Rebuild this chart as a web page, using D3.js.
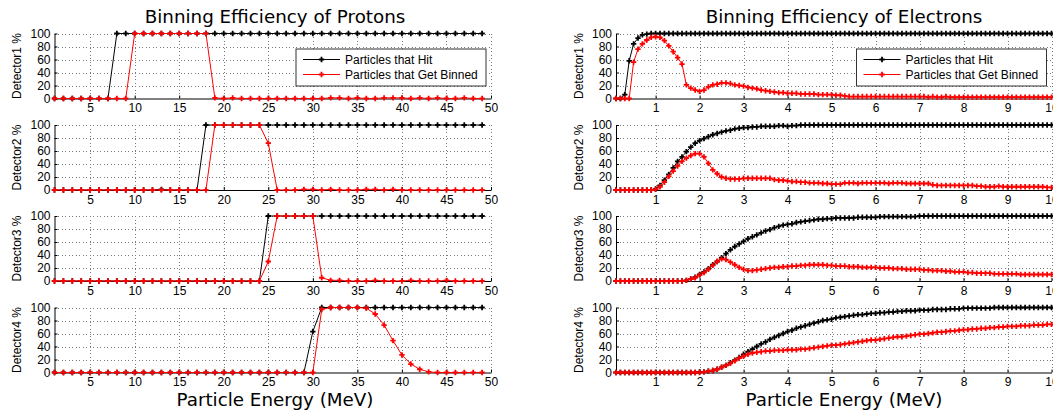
<!DOCTYPE html>
<html>
<head>
<meta charset="utf-8">
<script src="https://cdn.jsdelivr.net/npm/d3@7"></script>
<style>
  html, body { margin: 0; padding: 0; background: #fff; }
  svg { display: block; }
  .tick text { font-family: "Liberation Sans", Arial, sans-serif; font-size: 12px; fill: #000; }
</style>
</head>
<body>
<script>
// ---- Energies and tick values ----
const protonEnergy = d3.range(1, 50);                       // 1 .. 49 MeV
const electronEnergy = d3.range(1, 101).map(i => i / 10);   // 0.1 .. 10 MeV
const protonTicks = [5, 10, 15, 20, 25, 30, 35, 40, 45, 50];
const electronTicks = [1, 2, 3, 4, 5, 6, 7, 8, 9, 10];
const percentTicks = [0, 20, 40, 60, 80, 100];
const detectorNames = ["Detector1 %", "Detector2 %", "Detector3 %", "Detector4 %"];
const seriesNames = ["Particles that Hit", "Particles that Get Binned"];

// ---- Protons: percent of particles per detector ----
const p1Hit = [0,0,0,0,0,0,0,100,100,100, 100,100,100,100,100,100,100,100,100,100,
  100,100,100,100,100,100,100,100,100,100, 100,100,100,100,100,100,100,100,100,100,
  100,100,100,100,100,100,100,100,100];
const p1Binned = [0,0,0,0,0,0,0,0,0,100, 100,100,100,100,100,100,100,100,1,0,
  1,0,0,0,0,0,0,0,0,0, 0,1,1,0,1,0,0,1,1,1,
  0,1,0,1,0,0,1,0,0];
const p2Hit = [0,0,0,0,0,0,0,0,0,0, 0,0,1,0,0,0,0,100,100,100,
  100,100,100,100,100,100,100,100,100,100, 100,100,100,100,100,100,100,100,100,100,
  100,100,100,100,100,100,100,100,100];
const p2Binned = [0,0,0,0,0,0,0,0,0,0, 0,0,0,0,0,0,0,0,100,100,
  100,100,100,100,72,0,0,0,1,1, 0,1,0,0,0,1,1,0,1,0,
  0,0,0,0,0,0,0,0,0];
const p3Hit = [0,0,0,0,0,0,0,0,0,0, 0,0,0,0,0,0,0,0,0,0,
  0,0,0,0,100,100,100,100,100,100, 100,100,100,100,100,100,100,100,100,100,
  100,100,100,100,100,100,100,100,100];
const p3Binned = [0,0,0,0,0,0,0,0,0,0, 0,0,0,0,0,0,0,0,0,0,
  0,0,0,0,30,100,100,100,100,100, 5,1,1,0,0,0,1,0,0,0,
  1,0,0,0,1,0,0,0,0];
const p4Hit = [0,0,0,0,0,0,0,0,0,0, 0,0,0,0,0,0,0,0,0,0,
  0,0,0,0,0,0,0,0,0,63, 100,100,100,100,100,100,100,100,100,100,
  100,100,100,100,100,100,100,100,100];
const p4Binned = [0,0,0,0,0,0,0,0,0,0, 0,0,0,0,0,0,0,0,0,0,
  0,0,0,0,0,0,0,0,0,0, 97,100,100,100,100,99,90,73,49,27,
  13,5,1,0,0,0,0,0,0];

// ---- Electrons: percent of particles per detector ----
const e1Hit = [0,0,6,58,84,93,98,99,100,100,
  100,100,100,100,100,100,100,100,100,100,
  100,100,100,100,100,100,100,100,100,100,
  100,100,100,100,100,100,100,100,100,100,
  100,100,100,100,100,100,100,100,100,100,
  100,100,100,100,100,100,100,100,100,100,
  100,100,100,100,100,100,100,100,100,100,
  100,100,100,100,100,100,100,100,100,100,
  100,100,100,100,100,100,100,100,100,100,
  100,100,100,100,100,100,100,100,100,100];
const e1Binned = [0,0,0,0,56,76,84,90,94,95,
  94,89,81,72,63,53,21,16,13,11,
  13,18,21,22,24,24,23,21,20,19,
  17,16,15,13,12,11,10,9,9,8,
  8,8,7,7,7,7,6,6,6,6,
  5,5,4,3,3,3,3,3,3,3,
  3,3,3,3,3,3,3,3,3,3,
  3,2,3,2,2,3,2,2,2,2,
  2,2,2,2,2,2,2,2,2,2,
  2,2,2,2,2,2,2,2,2,2];
const e2Hit = [0,0,0,0,0,0,0,0,0,1.5,
  7,15,24,34,44,51,59,66,72,76,
  79,82,85,87,89,91,92,94,95,96,
  96,97,97,98,98,98,98,99,99,98,
  99,99,100,100,100,100,100,100,100,100,
  100,100,100,100,100,100,100,100,100,100,
  100,100,100,100,100,100,100,100,100,100,
  100,100,100,100,100,100,100,100,100,100,
  100,100,100,100,100,100,100,100,100,100,
  100,100,100,100,100,100,100,100,100,100];
const e2Binned = [0,0,0,0,0,0,0,0,0,1,
  5,12,21,29,37,44,49,53,56,56,
  51,41,31,25,20,18,17,17,17,18,
  18,18,18,18,18,18,16,15,15,14,
  13,13,12,12,11,11,11,10,10,9,
  9,9,11,11,11,10,11,11,11,11,
  11,11,10,11,11,11,10,10,10,10,
  10,10,8,7,7,7,7,7,7,7,
  7,7,6,6,5,5,5,6,5,5,
  5,5,5,5,5,5,5,5,4,4];
const e3Hit = [0,0,0,0,0,0,0,0,0,0,
  0,0,0,0,0,0,1,3,6,10,
  14,19,25,30,36,42,48,53,57,61,
  65,68,71,74,77,79,82,84,86,87,
  88,90,91,92,93,94,95,95,96,96,
  97,97,97,97,97,98,98,98,98,98,
  99,99,99,99,99,99,99,99,99,100,
  100,100,100,100,100,100,100,100,100,100,
  100,100,100,100,100,100,100,100,100,100,
  100,100,100,100,100,100,100,100,100,100];
const e3Binned = [0,0,0,0,0,0,0,0,0,0,
  0,0,0,0,0,0,1,3,5,9,
  13,18,24,30,34,33,29,25,21,18,
  16,16,17,18,19,20,21,21,22,22,
  23,23,24,24,25,25,25,25,24,24,
  23,23,23,22,22,22,21,21,21,21,
  20,20,20,19,19,19,18,18,18,18,
  17,17,16,16,16,15,15,14,14,14,
  13,13,12,12,12,12,11,11,11,11,
  11,11,10,10,10,10,10,10,10,10];
const e4Hit = [0,0,0,0,0,0,0,0,0,0,
  0,0,0,0,0,0,0,0,0,1,
  1,2,3,5,8,11,15,19,23,28,
  32,36,40,44,47,51,54,57,60,63,
  65,68,70,72,74,76,78,80,81,82,
  84,85,86,87,88,89,89,90,91,91,
  92,92,93,93,94,94,95,95,95,96,
  96,96,97,97,97,97,98,98,98,99,
  99,99,99,99,99,99,100,100,100,100,
  100,100,100,100,100,100,100,100,100,100];
const e4Binned = [0,0,0,0,0,0,0,0,0,0,
  0,0,0,0,0,0,0,0,0,0,
  1,2,3,5,8,11,14,18,22,25,
  28,30,31,32,33,33,34,34,34,35,
  35,35,36,36,37,38,39,40,41,42,
  42,43,44,45,46,47,48,49,50,50,
  51,52,53,54,55,55,56,57,58,59,
  59,60,61,62,62,63,64,64,65,66,
  66,67,67,68,68,69,69,70,70,71,
  71,71,72,72,72,73,73,73,74,74];

// ---- Layout ----
const W = 1053, H = 412;
const panelTops = [33.5, 125, 216, 307.5];
const panelH = 65;
const hitColor = "#000000";
const binColor = "#ff0000";

const columns = [
  { left: 54.5, right: 491, textX: 275, domain: [1, 50], ticks: protonTicks, energy: protonEnergy,
    hit: [p1Hit, p2Hit, p3Hit, p4Hit], binned: [p1Binned, p2Binned, p3Binned, p4Binned],
    title: "Binning Efficiency of Protons" },
  { left: 616, right: 1051.5, textX: 844, domain: [0.1, 10], ticks: electronTicks, energy: electronEnergy,
    hit: [e1Hit, e2Hit, e3Hit, e4Hit], binned: [e1Binned, e2Binned, e3Binned, e4Binned],
    title: "Binning Efficiency of Electrons" }
];

const svg = d3.select("body").append("svg").attr("width", W).attr("height", H);
const marker = d3.symbol().type(d3.symbolCross).size(16);

columns.forEach(col => {
  const x = d3.scaleLinear().domain(col.domain).range([col.left, col.right]);

  // title
  svg.append("text")
    .attr("x", col.textX).attr("y", 23)
    .attr("text-anchor", "middle")
    .style("font-family", "'DejaVu Sans', sans-serif").style("font-size", "18.3px")
    .text(col.title);

  // energy axis label
  svg.append("text")
    .attr("x", col.textX).attr("y", 406)
    .attr("text-anchor", "middle")
    .style("font-family", "'DejaVu Sans', sans-serif").style("font-size", "18.3px")
    .text("Particle Energy (MeV)");

  panelTops.forEach((top, k) => {
    const y = d3.scaleLinear().domain([0, 100]).range([top + panelH, top]);
    const g = svg.append("g");

    // dotted grid
    const grid = g.append("g").attr("stroke", "#7a7a7a").attr("stroke-width", 1)
      .attr("stroke-dasharray", "1,2.5").attr("shape-rendering", "crispEdges");
    grid.selectAll("line.h").data(percentTicks.filter(v => v > 0)).join("line")
      .attr("x1", col.left).attr("x2", col.right)
      .attr("y1", d => Math.round(y(d)) + 0.5).attr("y2", d => Math.round(y(d)) + 0.5);
    grid.selectAll("line.v").data(col.ticks).join("line")
      .attr("x1", d => Math.round(x(d)) + 0.5).attr("x2", d => Math.round(x(d)) + 0.5)
      .attr("y1", top).attr("y2", top + panelH);

    // axes with inward ticks
    g.append("g")
      .attr("transform", `translate(${col.left},0)`)
      .call(d3.axisLeft(y).tickValues(percentTicks).tickSizeInner(-3).tickSizeOuter(0).tickPadding(4))
      .call(a => a.selectAll("path,line").attr("stroke", "#000"));
    g.append("g")
      .attr("transform", `translate(0,${top + panelH})`)
      .call(d3.axisBottom(x).tickValues(col.ticks).tickSizeInner(-3).tickSizeOuter(0).tickPadding(5))
      .call(a => a.selectAll("path,line").attr("stroke", "#000"));

    // detector label
    svg.append("text")
      .attr("transform", `translate(${col.left - 33.5},${top + panelH / 2}) rotate(-90)`)
      .attr("text-anchor", "middle")
      .style("font-family", "'Liberation Sans', Arial, sans-serif").style("font-size", "12px")
      .text(detectorNames[k]);

    // series: hit first, binned on top
    [[col.hit[k], hitColor], [col.binned[k], binColor]].forEach(([vals, color]) => {
      const pts = col.energy.map((e, i) => [e, vals[i]]);
      g.append("path")
        .datum(pts)
        .attr("fill", "none").attr("stroke", color).attr("stroke-width", 1)
        .attr("d", d3.line().x(d => x(d[0])).y(d => y(d[1])));
      g.append("g").selectAll("path").data(pts).join("path")
        .attr("transform", d => `translate(${x(d[0])},${y(d[1])})`)
        .attr("d", marker).attr("fill", color);
    });

    // legend in the top panel
    if (k === 0) {
      const bx = col.right - 195, by = top + 15.5, bw = 190, bh = 37;
      const lg = g.append("g");
      lg.append("rect").attr("x", bx).attr("y", by).attr("width", bw).attr("height", bh)
        .attr("fill", "#fff").attr("stroke", "#333").attr("stroke-width", 1);
      [hitColor, binColor].forEach((color, j) => {
        const ly = by + 10.5 + j * 15;
        lg.append("line").attr("x1", bx + 7).attr("x2", bx + 44).attr("y1", ly).attr("y2", ly)
          .attr("stroke", color).attr("stroke-width", 1);
        lg.append("path").attr("transform", `translate(${bx + 25.5},${ly})`).attr("d", marker).attr("fill", color);
        lg.append("text").attr("x", bx + 49).attr("y", ly + 4.3)
          .style("font-family", "'Liberation Sans', Arial, sans-serif").style("font-size", "12px")
          .text(seriesNames[j]);
      });
    }
  });
});
</script>
</body>
</html>
